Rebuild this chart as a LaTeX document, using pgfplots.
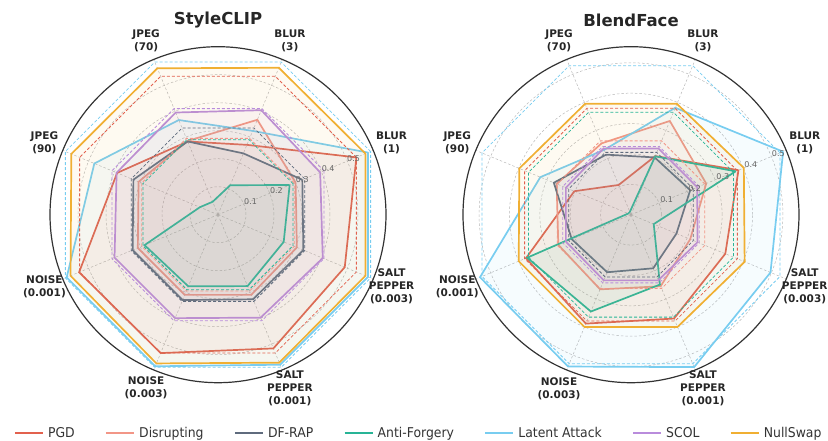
\documentclass[border=0pt]{standalone}
\usepackage{pgfplots}
\pgfplotsset{compat=1.18}
\usepgfplotslibrary{polar}
\usepackage{fontspec}
\setmainfont{DejaVu Sans}
\newfontfamily\legfont[FakeStretch=0.92]{DejaVu Sans}

\definecolor{cPGD}{RGB}{226,97,78}
\definecolor{cDis}{RGB}{242,150,135}
\definecolor{cDF}{RGB}{95,107,125}
\definecolor{cAF}{RGB}{40,180,150}
\definecolor{cLA}{RGB}{120,205,240}
\definecolor{cSC}{RGB}{185,140,220}
\definecolor{cNS}{RGB}{240,175,50}

\tikzset{
  lab/.style={align=center, font=\fontsize{10.5}{13}\selectfont\bfseries, text=black!85},
  rlab/.style={font=\fontsize{8}{9}\selectfont, text=black!60},
}
\pgfplotsset{
  radar/.style={
    scale only axis, width=336pt, height=336pt,
    anchor=center, clip=false,
    ymin=0,
    xtick={22.5,67.5,112.5,157.5,202.5,247.5,292.5,337.5},
    xticklabels={}, yticklabels={},
    ytick={0.1,0.2,0.3,0.4,0.5},
    grid=major,
    major grid style={gray!55, line width=0.5pt, dash pattern=on 2.5pt off 2pt},
    axis line style={black!80, line width=1.2pt},
    y axis line style={draw=none},
    tick style={draw=none},
  },
  solidline/.style={draw=#1, line width=1.7pt, fill=#1, fill opacity=0.065},
  baseline/.style={draw=#1, line width=0.8pt, dash pattern=on 3pt off 2pt, forget plot},
}

\begin{document}
\begin{tikzpicture}
\path[use as bounding box] (0,0) rectangle (828pt,441pt);

% ---------------- StyleCLIP ----------------
\begin{polaraxis}[radar, at={(218pt,226.3pt)}, ymax=0.6,
  legend columns=7,
  legend style={at={(1.1,-0.15)}, anchor=center, draw=none, fill=none,
    font=\legfont\fontsize{13.5}{15}\selectfont, text=black!80,
    nodes={inner xsep=4pt},
    /tikz/every even column/.append style={column sep=26pt}},
  legend image code/.code={\draw[#1, fill=none, line width=2.4pt] (0pt,0pt) -- (28pt,0pt);},
]
% order: BLUR(1), BLUR(3), JPEG(70), JPEG(90), NOISE(0.001), NOISE(0.003), SALT PEPPER(0.001), SALT PEPPER(0.003)
\addplot[solidline=cPGD] coordinates {(22.5,0.535) (67.5,0.27) (112.5,0.283) (157.5,0.39) (202.5,0.537) (247.5,0.535) (292.5,0.517) (337.5,0.49) (382.5,0.535)};
\addlegendentry{PGD}
\addplot[solidline=cDis] coordinates {(22.5,0.30) (67.5,0.367) (112.5,0.285) (157.5,0.307) (202.5,0.31) (247.5,0.31) (292.5,0.31) (337.5,0.305) (382.5,0.30)};
\addlegendentry{Disrupting}
\addplot[solidline=cDF] coordinates {(22.5,0.326) (67.5,0.237) (112.5,0.283) (157.5,0.327) (202.5,0.33) (247.5,0.33) (292.5,0.327) (337.5,0.33) (382.5,0.326)};
\addlegendentry{DF-RAP}
\addplot[solidline=cAF] coordinates {(22.5,0.277) (67.5,0.114) (112.5,0.05) (157.5,0.07) (202.5,0.284) (247.5,0.277) (292.5,0.276) (337.5,0.254) (382.5,0.277)};
\addlegendentry{Anti-Forgery}
\addplot[solidline=cLA] coordinates {(22.5,0.58) (67.5,0.324) (112.5,0.366) (157.5,0.478) (202.5,0.585) (247.5,0.586) (292.5,0.58) (337.5,0.58) (382.5,0.58)};
\addlegendentry{Latent Attack}
\addplot[solidline=cSC] coordinates {(22.5,0.395) (67.5,0.404) (112.5,0.395) (157.5,0.392) (202.5,0.40) (247.5,0.40) (292.5,0.398) (337.5,0.405) (382.5,0.395)};
\addlegendentry{SCOL}
\addplot[solidline=cNS] coordinates {(22.5,0.57) (67.5,0.568) (112.5,0.566) (157.5,0.567) (202.5,0.57) (247.5,0.575) (292.5,0.572) (337.5,0.57) (382.5,0.57)};
\addlegendentry{NullSwap}
% reference levels (dashed)
\addplot[baseline=cPGD] coordinates {(22.5,0.535) (67.5,0.535) (112.5,0.535) (157.5,0.535) (202.5,0.535) (247.5,0.535) (292.5,0.535) (337.5,0.535) (382.5,0.535)};
\addplot[baseline=cDis] coordinates {(22.5,0.295) (67.5,0.295) (112.5,0.295) (157.5,0.295) (202.5,0.295) (247.5,0.295) (292.5,0.295) (337.5,0.295) (382.5,0.295)};
\addplot[baseline=cDF] coordinates {(22.5,0.335) (67.5,0.335) (112.5,0.335) (157.5,0.335) (202.5,0.335) (247.5,0.335) (292.5,0.335) (337.5,0.335) (382.5,0.335)};
\addplot[baseline=cAF] coordinates {(22.5,0.29) (67.5,0.29) (112.5,0.29) (157.5,0.29) (202.5,0.29) (247.5,0.29) (292.5,0.29) (337.5,0.29) (382.5,0.29)};
\addplot[baseline=cLA] coordinates {(22.5,0.59) (67.5,0.59) (112.5,0.59) (157.5,0.59) (202.5,0.59) (247.5,0.59) (292.5,0.59) (337.5,0.59) (382.5,0.59)};
\addplot[baseline=cSC] coordinates {(22.5,0.41) (67.5,0.41) (112.5,0.41) (157.5,0.41) (202.5,0.41) (247.5,0.41) (292.5,0.41) (337.5,0.41) (382.5,0.41)};
% category labels
\node[lab] at (axis cs:22.5,0.671) {BLUR\\(1)};
\node[lab] at (axis cs:67.5,0.671) {BLUR\\(3)};
\node[lab] at (axis cs:112.5,0.671) {JPEG\\(70)};
\node[lab] at (axis cs:157.5,0.671) {JPEG\\(90)};
\node[lab] at (axis cs:202.5,0.671) {NOISE\\(0.001)};
\node[lab] at (axis cs:247.5,0.671) {NOISE\\(0.003)};
\node[lab] at (axis cs:292.5,0.671) {SALT\\PEPPER\\(0.001)};
\node[lab] at (axis cs:337.5,0.671) {SALT\\PEPPER\\(0.003)};
% radial labels
\node[rlab] at (axis cs:22.5,0.126) {0.1};
\node[rlab] at (axis cs:22.5,0.226) {0.2};
\node[rlab] at (axis cs:22.5,0.326) {0.3};
\node[rlab] at (axis cs:22.5,0.426) {0.4};
\node[rlab] at (axis cs:22.5,0.524) {0.5};
\end{polaraxis}

% ---------------- BlendFace ----------------
\begin{polaraxis}[radar, at={(631pt,226.3pt)}, ymax=0.553]
\addplot[solidline=cPGD] coordinates {(22.5,0.383) (67.5,0.209) (112.5,0.106) (157.5,0.202) (202.5,0.374) (247.5,0.388) (292.5,0.370) (337.5,0.336) (382.5,0.383)};
\addplot[solidline=cDis] coordinates {(22.5,0.268) (67.5,0.334) (112.5,0.254) (157.5,0.265) (202.5,0.259) (247.5,0.266) (292.5,0.255) (337.5,0.211) (382.5,0.268)};
\addplot[solidline=cDF] coordinates {(22.5,0.211) (67.5,0.204) (112.5,0.214) (157.5,0.275) (202.5,0.211) (247.5,0.205) (292.5,0.191) (337.5,0.162) (382.5,0.211)};
\addplot[solidline=cAF] coordinates {(22.5,0.373) (67.5,0.208) (112.5,0.01) (157.5,0.01) (202.5,0.370) (247.5,0.345) (292.5,0.249) (337.5,0.081) (382.5,0.373)};
\addplot[solidline=cLA] coordinates {(22.5,0.542) (67.5,0.381) (112.5,0.231) (157.5,0.323) (202.5,0.538) (247.5,0.541) (292.5,0.543) (337.5,0.497) (382.5,0.542)};
\addplot[solidline=cSC] coordinates {(22.5,0.236) (67.5,0.236) (112.5,0.236) (157.5,0.232) (202.5,0.232) (247.5,0.234) (292.5,0.234) (337.5,0.237) (382.5,0.236)};
\addplot[solidline=cNS] coordinates {(22.5,0.402) (67.5,0.395) (112.5,0.395) (157.5,0.398) (202.5,0.40) (247.5,0.40) (292.5,0.40) (337.5,0.405) (382.5,0.402)};
% reference levels (dashed)
\addplot[baseline=cPGD] coordinates {(22.5,0.379) (67.5,0.379) (112.5,0.379) (157.5,0.379) (202.5,0.379) (247.5,0.379) (292.5,0.379) (337.5,0.379) (382.5,0.379)};
\addplot[baseline=cDis] coordinates {(22.5,0.263) (67.5,0.263) (112.5,0.263) (157.5,0.263) (202.5,0.263) (247.5,0.263) (292.5,0.263) (337.5,0.263) (382.5,0.263)};
\addplot[baseline=cDF] coordinates {(22.5,0.222) (67.5,0.222) (112.5,0.222) (157.5,0.222) (202.5,0.222) (247.5,0.222) (292.5,0.222) (337.5,0.222) (382.5,0.222)};
\addplot[baseline=cAF] coordinates {(22.5,0.365) (67.5,0.365) (112.5,0.365) (157.5,0.365) (202.5,0.365) (247.5,0.365) (292.5,0.365) (337.5,0.365) (382.5,0.365)};
\addplot[baseline=cLA] coordinates {(22.5,0.531) (67.5,0.531) (112.5,0.531) (157.5,0.531) (202.5,0.531) (247.5,0.531) (292.5,0.531) (337.5,0.531) (382.5,0.531)};
\addplot[baseline=cSC] coordinates {(22.5,0.243) (67.5,0.243) (112.5,0.243) (157.5,0.243) (202.5,0.243) (247.5,0.243) (292.5,0.243) (337.5,0.243) (382.5,0.243)};
\node[lab] at (axis cs:22.5,0.619) {BLUR\\(1)};
\node[lab] at (axis cs:67.5,0.619) {BLUR\\(3)};
\node[lab] at (axis cs:112.5,0.619) {JPEG\\(70)};
\node[lab] at (axis cs:157.5,0.619) {JPEG\\(90)};
\node[lab] at (axis cs:202.5,0.619) {NOISE\\(0.001)};
\node[lab] at (axis cs:247.5,0.619) {NOISE\\(0.003)};
\node[lab] at (axis cs:292.5,0.619) {SALT\\PEPPER\\(0.001)};
\node[lab] at (axis cs:337.5,0.619) {SALT\\PEPPER\\(0.003)};
\node[rlab] at (axis cs:22.5,0.127) {0.1};
\node[rlab] at (axis cs:22.5,0.227) {0.2};
\node[rlab] at (axis cs:22.5,0.327) {0.3};
\node[rlab] at (axis cs:22.5,0.427) {0.4};
\node[rlab] at (axis cs:22.5,0.525) {0.5};
\end{polaraxis}

% panel titles
\node[font=\fontsize{16.5}{19}\selectfont\bfseries, text=black!85] at (218pt,421pt) {StyleCLIP};
\node[font=\fontsize{16.5}{19}\selectfont\bfseries, text=black!85] at (631pt,421pt) {BlendFace};
\end{tikzpicture}
\end{document}
